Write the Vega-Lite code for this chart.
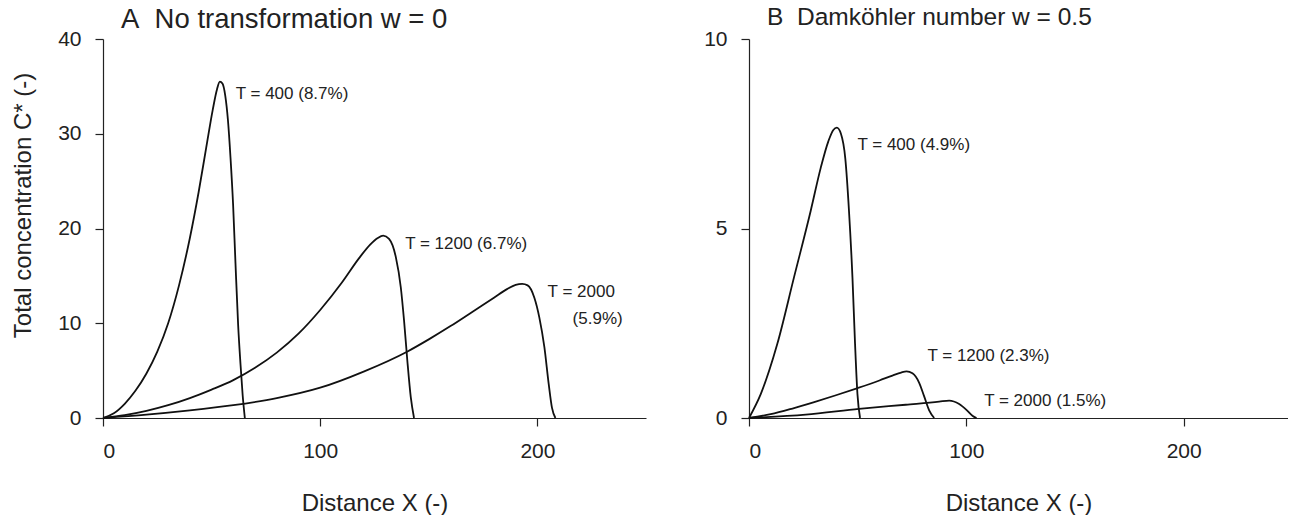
{
  "$schema": "https://vega.github.io/schema/vega-lite/v6.json",
  "padding": {"left": 11, "top": 4, "right": 0, "bottom": 0},
  "config": {
    "font": "Liberation Sans",
    "view": {"stroke": null},
    "axis": {
      "grid": false,
      "domainColor": "#222",
      "tickColor": "#222",
      "labelColor": "#222",
      "titleColor": "#222",
      "labelFont": "Liberation Sans",
      "titleFont": "Liberation Sans",
      "labelFontSize": 21,
      "titleFontSize": 24,
      "titleFontWeight": "normal",
      "tickSize": 8,
      "labelPadding": 14,
      "domainWidth": 1.2,
      "tickWidth": 1.2
    },
    "title": {"fontWeight": "normal", "anchor": "start", "frame": "group", "color": "#222", "font": "Liberation Sans"},
    "concat": {"spacing": 57}
  },
  "datasets": {
    "curves": [
      {"panel": "A", "series": "T400", "x": 0, "c": 0},
      {"panel": "A", "series": "T400", "x": 5, "c": 0.5},
      {"panel": "A", "series": "T400", "x": 10, "c": 1.5},
      {"panel": "A", "series": "T400", "x": 15, "c": 2.9},
      {"panel": "A", "series": "T400", "x": 20, "c": 4.7},
      {"panel": "A", "series": "T400", "x": 25, "c": 7.0},
      {"panel": "A", "series": "T400", "x": 30, "c": 10.0},
      {"panel": "A", "series": "T400", "x": 35, "c": 14.0},
      {"panel": "A", "series": "T400", "x": 40, "c": 19.0},
      {"panel": "A", "series": "T400", "x": 44, "c": 23.8},
      {"panel": "A", "series": "T400", "x": 47.5, "c": 28.5},
      {"panel": "A", "series": "T400", "x": 50.5, "c": 32.5},
      {"panel": "A", "series": "T400", "x": 52.5, "c": 34.7},
      {"panel": "A", "series": "T400", "x": 53.8, "c": 35.5},
      {"panel": "A", "series": "T400", "x": 55, "c": 35.3},
      {"panel": "A", "series": "T400", "x": 56.3, "c": 34.0},
      {"panel": "A", "series": "T400", "x": 57.5, "c": 31.5},
      {"panel": "A", "series": "T400", "x": 58.7, "c": 27.5},
      {"panel": "A", "series": "T400", "x": 59.9, "c": 22.5},
      {"panel": "A", "series": "T400", "x": 61.0, "c": 16.3},
      {"panel": "A", "series": "T400", "x": 62.2, "c": 9.9},
      {"panel": "A", "series": "T400", "x": 63.3, "c": 5.7},
      {"panel": "A", "series": "T400", "x": 64.3, "c": 2.4},
      {"panel": "A", "series": "T400", "x": 65.3, "c": 0},
      {"panel": "A", "series": "T1200", "x": 0, "c": 0},
      {"panel": "A", "series": "T1200", "x": 10, "c": 0.3},
      {"panel": "A", "series": "T1200", "x": 20, "c": 0.75},
      {"panel": "A", "series": "T1200", "x": 30, "c": 1.35},
      {"panel": "A", "series": "T1200", "x": 40, "c": 2.1},
      {"panel": "A", "series": "T1200", "x": 50, "c": 3.0},
      {"panel": "A", "series": "T1200", "x": 60, "c": 4.0},
      {"panel": "A", "series": "T1200", "x": 70, "c": 5.3},
      {"panel": "A", "series": "T1200", "x": 80, "c": 6.9},
      {"panel": "A", "series": "T1200", "x": 90, "c": 8.9},
      {"panel": "A", "series": "T1200", "x": 100, "c": 11.4},
      {"panel": "A", "series": "T1200", "x": 110, "c": 14.3},
      {"panel": "A", "series": "T1200", "x": 118, "c": 16.9},
      {"panel": "A", "series": "T1200", "x": 123, "c": 18.3},
      {"panel": "A", "series": "T1200", "x": 126.5, "c": 19.0},
      {"panel": "A", "series": "T1200", "x": 129, "c": 19.25},
      {"panel": "A", "series": "T1200", "x": 131.7, "c": 18.9},
      {"panel": "A", "series": "T1200", "x": 134.8, "c": 17.0},
      {"panel": "A", "series": "T1200", "x": 137.1, "c": 13.8},
      {"panel": "A", "series": "T1200", "x": 138.6, "c": 10.3},
      {"panel": "A", "series": "T1200", "x": 140.1, "c": 6.1},
      {"panel": "A", "series": "T1200", "x": 141.7, "c": 2.2},
      {"panel": "A", "series": "T1200", "x": 143.2, "c": 0},
      {"panel": "A", "series": "T2000", "x": 0, "c": 0},
      {"panel": "A", "series": "T2000", "x": 20, "c": 0.35},
      {"panel": "A", "series": "T2000", "x": 40, "c": 0.8},
      {"panel": "A", "series": "T2000", "x": 60, "c": 1.35},
      {"panel": "A", "series": "T2000", "x": 80, "c": 2.1},
      {"panel": "A", "series": "T2000", "x": 100, "c": 3.2},
      {"panel": "A", "series": "T2000", "x": 120, "c": 4.9},
      {"panel": "A", "series": "T2000", "x": 140, "c": 7.0},
      {"panel": "A", "series": "T2000", "x": 150, "c": 8.3},
      {"panel": "A", "series": "T2000", "x": 160, "c": 9.7},
      {"panel": "A", "series": "T2000", "x": 170, "c": 11.2},
      {"panel": "A", "series": "T2000", "x": 180, "c": 12.7},
      {"panel": "A", "series": "T2000", "x": 186, "c": 13.6},
      {"panel": "A", "series": "T2000", "x": 190, "c": 14.05},
      {"panel": "A", "series": "T2000", "x": 193, "c": 14.15},
      {"panel": "A", "series": "T2000", "x": 195.5, "c": 14.0},
      {"panel": "A", "series": "T2000", "x": 198.6, "c": 12.7},
      {"panel": "A", "series": "T2000", "x": 200.9, "c": 10.6},
      {"panel": "A", "series": "T2000", "x": 203.2, "c": 7.5},
      {"panel": "A", "series": "T2000", "x": 205.2, "c": 3.6},
      {"panel": "A", "series": "T2000", "x": 206.7, "c": 1.1},
      {"panel": "A", "series": "T2000", "x": 208.3, "c": 0},
      {"panel": "B", "series": "T400", "x": 0, "c": 0},
      {"panel": "B", "series": "T400", "x": 5.4, "c": 0.63},
      {"panel": "B", "series": "T400", "x": 13.0, "c": 1.95},
      {"panel": "B", "series": "T400", "x": 20.7, "c": 3.71},
      {"panel": "B", "series": "T400", "x": 28.4, "c": 5.47},
      {"panel": "B", "series": "T400", "x": 33.0, "c": 6.6},
      {"panel": "B", "series": "T400", "x": 36.5, "c": 7.3},
      {"panel": "B", "series": "T400", "x": 38.8, "c": 7.6},
      {"panel": "B", "series": "T400", "x": 40.4, "c": 7.66},
      {"panel": "B", "series": "T400", "x": 42.3, "c": 7.5},
      {"panel": "B", "series": "T400", "x": 44.3, "c": 6.85},
      {"panel": "B", "series": "T400", "x": 46.0, "c": 5.47},
      {"panel": "B", "series": "T400", "x": 47.6, "c": 3.71},
      {"panel": "B", "series": "T400", "x": 48.8, "c": 1.95},
      {"panel": "B", "series": "T400", "x": 49.9, "c": 0.63},
      {"panel": "B", "series": "T400", "x": 51.1, "c": 0},
      {"panel": "B", "series": "T1200", "x": 0, "c": 0},
      {"panel": "B", "series": "T1200", "x": 10, "c": 0.1},
      {"panel": "B", "series": "T1200", "x": 20, "c": 0.25},
      {"panel": "B", "series": "T1200", "x": 30, "c": 0.42},
      {"panel": "B", "series": "T1200", "x": 40, "c": 0.6},
      {"panel": "B", "series": "T1200", "x": 50, "c": 0.79},
      {"panel": "B", "series": "T1200", "x": 60, "c": 0.99},
      {"panel": "B", "series": "T1200", "x": 66, "c": 1.12},
      {"panel": "B", "series": "T1200", "x": 70, "c": 1.2},
      {"panel": "B", "series": "T1200", "x": 72.5, "c": 1.23},
      {"panel": "B", "series": "T1200", "x": 75.2, "c": 1.18},
      {"panel": "B", "series": "T1200", "x": 78.3, "c": 0.93},
      {"panel": "B", "series": "T1200", "x": 80.6, "c": 0.57},
      {"panel": "B", "series": "T1200", "x": 82.9, "c": 0.2},
      {"panel": "B", "series": "T1200", "x": 85.2, "c": 0},
      {"panel": "B", "series": "T2000", "x": 0, "c": 0},
      {"panel": "B", "series": "T2000", "x": 26.1, "c": 0.09},
      {"panel": "B", "series": "T2000", "x": 50.6, "c": 0.24},
      {"panel": "B", "series": "T2000", "x": 72.1, "c": 0.35},
      {"panel": "B", "series": "T2000", "x": 87.5, "c": 0.43},
      {"panel": "B", "series": "T2000", "x": 92.1, "c": 0.46},
      {"panel": "B", "series": "T2000", "x": 96.7, "c": 0.37},
      {"panel": "B", "series": "T2000", "x": 100.5, "c": 0.19},
      {"panel": "B", "series": "T2000", "x": 102.8, "c": 0.06},
      {"panel": "B", "series": "T2000", "x": 104.7, "c": 0}
    ],
    "labels": [
      {"panel": "A", "x": 61.1, "c": 34.2, "text": "T = 400 (8.7%)"},
      {"panel": "A", "x": 139.1, "c": 18.4, "text": "T = 1200 (6.7%)"},
      {"panel": "A", "x": 204.7, "c": 13.3, "text": "T = 2000"},
      {"panel": "A", "x": 216.2, "c": 10.5, "text": "(5.9%)"},
      {"panel": "B", "x": 49.9, "c": 7.2, "text": "T = 400 (4.9%)"},
      {"panel": "B", "x": 82.1, "c": 1.64, "text": "T = 1200 (2.3%)"},
      {"panel": "B", "x": 108.2, "c": 0.46, "text": "T = 2000 (1.5%)"}
    ]
  },
  "hconcat": [
    {
      "width": 543,
      "height": 379,
      "title": {"text": "A\u00a0 No transformation w = 0", "fontSize": 27.5, "dx": 18, "offset": -5.4},
      "layer": [
        {
          "data": {"name": "curves"},
          "transform": [{"filter": "datum.panel == 'A'"}],
          "mark": {"type": "line", "interpolate": "monotone", "color": "#111", "strokeWidth": 1.8},
          "encoding": {
            "x": {"field": "x", "type": "quantitative", "scale": {"domain": [0, 250], "nice": false},
                  "axis": {"values": [0, 100, 200], "title": "Distance X (-)", "titlePadding": 30}},
            "y": {"field": "c", "type": "quantitative", "scale": {"domain": [0, 40], "nice": false},
                  "axis": {"values": [0, 10, 20, 30, 40], "title": "Total concentration C* (-)", "titlePadding": 22, "titleY": 166}},
            "detail": {"field": "series"}
          }
        },
        {
          "data": {"name": "labels"},
          "transform": [{"filter": "datum.panel == 'A'"}],
          "mark": {"type": "text", "align": "left", "baseline": "middle", "fontSize": 17, "color": "#222", "font": "Liberation Sans"},
          "encoding": {
            "x": {"field": "x", "type": "quantitative"},
            "y": {"field": "c", "type": "quantitative"},
            "text": {"field": "text"}
          }
        }
      ]
    },
    {
      "width": 539,
      "height": 379,
      "title": {"text": "B\u00a0 Damköhler number w = 0.5", "fontSize": 24.5, "dx": 18, "offset": -2.4},
      "layer": [
        {
          "data": {"name": "curves"},
          "transform": [{"filter": "datum.panel == 'B'"}],
          "mark": {"type": "line", "interpolate": "monotone", "color": "#111", "strokeWidth": 1.8},
          "encoding": {
            "x": {"field": "x", "type": "quantitative", "scale": {"domain": [0, 248], "nice": false},
                  "axis": {"values": [0, 100, 200], "title": "Distance X (-)", "titlePadding": 30}},
            "y": {"field": "c", "type": "quantitative", "scale": {"domain": [0, 10], "nice": false},
                  "axis": {"values": [0, 5, 10], "title": null}},
            "detail": {"field": "series"}
          }
        },
        {
          "data": {"name": "labels"},
          "transform": [{"filter": "datum.panel == 'B'"}],
          "mark": {"type": "text", "align": "left", "baseline": "middle", "fontSize": 17, "color": "#222", "font": "Liberation Sans"},
          "encoding": {
            "x": {"field": "x", "type": "quantitative"},
            "y": {"field": "c", "type": "quantitative"},
            "text": {"field": "text"}
          }
        }
      ]
    }
  ]
}
